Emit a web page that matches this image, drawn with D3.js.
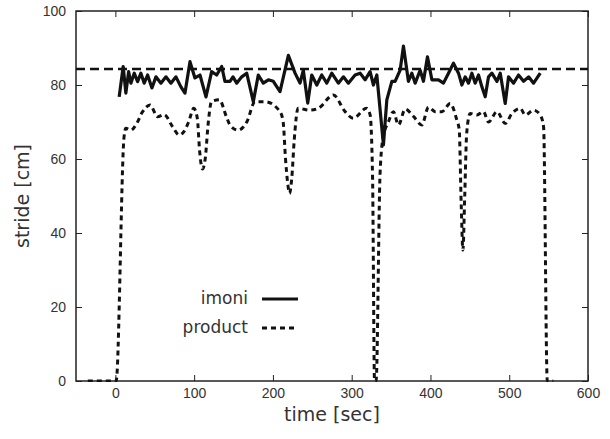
<!DOCTYPE html>
<html>
<head>
<meta charset="utf-8">
<script src="https://cdn.jsdelivr.net/npm/d3@7"></script>
<style>
  body { margin: 0; background: #fff; }
  svg { display: block; font-family: "DejaVu Sans", sans-serif; }
  .tick text { font-size: 14px; fill: #333; }
  .axis-text { font-size: 19px; fill: #333; }
</style>
</head>
<body>
<div class="chart"></div>
<script>
// imoni (solid) - time [sec] and stride [cm]
var imoniTime = [4.8, 9.9, 13.3, 16.8, 19.7, 23.9, 28.2, 32.4, 36.6, 40.9, 46.4, 51.5, 57.8, 64.2,
  70.5, 76.9, 83.2, 88.3, 94.7, 101, 107.4, 115, 122.2, 128.6, 135, 139.1, 145.5, 149.3, 154,
  160.4, 166.7, 175.1, 181.4, 187.8, 194.2, 200.5, 209, 219.6, 228.1, 234.4, 238.6, 244.2,
  249.3, 255.7, 262, 268.4, 274.7, 283.1, 289.5, 295.8, 304.3, 310.7, 317, 323.4, 327.6,
  331.9, 340.3, 344.6, 351, 355.1, 361.5, 365.7, 372, 376.4, 380.6, 386.9, 391.1, 396.2,
  401.8, 410.2, 416.5, 422.9, 429.2, 435.6, 439.9, 444.1, 448.3, 452.6, 456.8, 461, 465.3,
  469.5, 473.7, 478, 484.4, 488.6, 494.9, 499.1, 505.5, 511.8, 518.2, 524.6, 530.9, 539.4];
var imoniStride = [76.8, 85, 77.8, 83.6, 80.5, 83.2, 80.9, 83.2, 80.5, 82.7, 79.2, 82.2, 80.5, 82.2,
  80.5, 82.2, 79.5, 77.8, 86.3, 81.9, 82.7, 76.8, 83.6, 82.7, 85, 81, 81, 82.2, 80.5,
  82.2, 83.2, 75.5, 82.7, 80.5, 81.4, 81, 78.2, 88, 83.2, 80.5, 84, 75.1,
  82.7, 80, 82.7, 80.5, 83.2, 80.5, 82.2, 80.5, 82.7, 83.2, 81.4, 83.6, 80,
  82.7, 63.8, 76, 81, 81, 84, 90.5, 81, 83.2, 80.5, 84, 81, 87.6,
  81.4, 81.4, 80.5, 83.2, 85.9, 83.2, 80, 82.2, 80.5, 83.2, 80.5, 82.7, 79.5,
  76.8, 82.2, 83.2, 81, 83.2, 75, 82.2, 80.5, 82.7, 81, 82.2, 80.5, 83.2];

// product (dashed)
var productTime = [-35, -25, -15, -5, 1, 11, 13.3, 19.7, 26, 34.6, 44, 53.6, 62, 72.7, 81, 87,
  93, 99.5, 104, 107, 110.5, 114, 118, 122, 132, 141, 146, 156, 167, 177.3, 190, 209,
  213, 216, 219, 221, 224, 227, 232, 247, 257.7, 276.7, 291.6, 302, 319, 323.4, 326.5,
  329, 331, 336, 340, 346.6, 353, 359.3, 368, 378.4, 389, 397.5, 406, 414.5, 425, 433.5,
  436.5, 439, 441.2, 443.5, 446, 450.4, 459, 467.3, 473.7, 484.4, 495, 503.4, 514, 520.3,
  530.9, 539.4, 543.6, 548.3, 556];
var productStride = [0, 0, 0, 0, 0, 66, 68.3, 67.8, 69.2, 72.8, 74.6, 71.4, 72, 68.7, 66.5, 67.4,
  70, 73.7, 71, 62, 57.3, 60, 70, 75.5, 76, 71.4, 69, 67.8, 70.1, 75.5, 75.5, 72.8,
  70, 60, 53, 50.7, 55, 65, 73.7, 73.2, 73.7, 77.3, 72.8, 71, 73.7, 71.9, 55,
  0, 0, 56, 66, 70, 72.8, 69.2, 73.5, 71.5, 69.2, 74, 72.8, 72.8, 75, 70.5,
  68, 48, 35.4, 50, 67, 72.3, 71.9, 72.8, 70, 72.8, 69.6, 72.3, 73.7, 71.9,
  73.2, 71.9, 68.7, 0, 0];

var refStride = 84.3;
var xTicks = [0, 100, 200, 300, 400, 500, 600];
var yTicks = [0, 20, 40, 60, 80, 100];

var svgWidth = 610, svgHeight = 439;
var margin = { top: 11, right: 22, bottom: 58, left: 76 };
var width = svgWidth - margin.left - margin.right;
var height = svgHeight - margin.top - margin.bottom;

var svg = d3.select(".chart").append("svg")
    .attr("width", svgWidth)
    .attr("height", svgHeight);

var chart = svg.append("g")
    .attr("transform", "translate(" + margin.left + "," + margin.top + ")");

var xLinearScale = d3.scaleLinear().domain([-50, 600]).range([0, width]);
var yLinearScale = d3.scaleLinear().domain([0, 100]).range([height, 0]);

chart.append("defs").append("clipPath").attr("id", "clip")
    .append("rect").attr("width", width).attr("height", height + 2).attr("y", -1);

// axes, ticks pointing inward on all four sides
function styleAxis(g) {
    g.select(".domain").remove();
    g.selectAll(".tick line").attr("stroke", "#222").attr("stroke-width", 1);
}
chart.append("g")
    .attr("transform", "translate(0," + height + ")")
    .call(d3.axisBottom(xLinearScale).tickValues(xTicks).tickSizeInner(-6).tickPadding(7))
    .call(styleAxis);
chart.append("g")
    .call(d3.axisTop(xLinearScale).tickValues(xTicks).tickSizeInner(-6).tickFormat(""))
    .call(styleAxis);
chart.append("g")
    .call(d3.axisLeft(yLinearScale).tickValues(yTicks).tickSizeInner(-6).tickPadding(10))
    .call(styleAxis);
chart.append("g")
    .attr("transform", "translate(" + width + ",0)")
    .call(d3.axisRight(yLinearScale).tickValues(yTicks).tickSizeInner(-6).tickFormat(""))
    .call(styleAxis);

chart.append("rect")
    .attr("width", width)
    .attr("height", height)
    .attr("fill", "none")
    .attr("stroke", "#222")
    .attr("stroke-width", 1.5);

var plot = chart.append("g").attr("clip-path", "url(#clip)");

// reference line
plot.append("line")
    .attr("x1", 0).attr("x2", width)
    .attr("y1", yLinearScale(refStride)).attr("y2", yLinearScale(refStride))
    .attr("stroke", "#111")
    .attr("stroke-width", 2.5)
    .attr("stroke-dasharray", "9,5");

var productLine = d3.line()
    .x(function(d, i) { return xLinearScale(productTime[i]); })
    .y(function(d) { return yLinearScale(d); })
    .curve(d3.curveMonotoneX);

plot.append("path")
    .datum(productStride)
    .attr("d", productLine)
    .attr("fill", "none")
    .attr("stroke", "#111")
    .attr("stroke-width", 3)
    .attr("stroke-dasharray", "5,4");

var imoniLine = d3.line()
    .x(function(d, i) { return xLinearScale(imoniTime[i]); })
    .y(function(d) { return yLinearScale(d); });

plot.append("path")
    .datum(imoniStride)
    .attr("d", imoniLine)
    .attr("fill", "none")
    .attr("stroke", "#111")
    .attr("stroke-width", 3.2)
    .attr("stroke-linejoin", "round");

// legend
var legend = chart.append("g");
var legendItems = [
    { name: "imoni", dash: null, y: 287 },
    { name: "product", dash: "5,4", y: 316 }
];
legendItems.forEach(function(item) {
    legend.append("text")
        .attr("x", 172)
        .attr("y", item.y)
        .attr("dy", "0.35em")
        .attr("text-anchor", "end")
        .style("font-size", "17px")
        .style("fill", "#333")
        .text(item.name);
    legend.append("line")
        .attr("x1", 186).attr("x2", 222)
        .attr("y1", item.y + 1).attr("y2", item.y + 1)
        .attr("stroke", "#111")
        .attr("stroke-width", 3)
        .attr("stroke-dasharray", item.dash);
});

// axis labels
chart.append("text")
    .attr("class", "axis-text")
    .attr("x", width / 2)
    .attr("y", height + 40)
    .attr("text-anchor", "middle")
    .text("time [sec]");

chart.append("text")
    .attr("class", "axis-text")
    .attr("transform", "rotate(-90)")
    .attr("x", -height / 2)
    .attr("y", -margin.left + 29)
    .attr("text-anchor", "middle")
    .text("stride [cm]");
</script>
</body>
</html>
